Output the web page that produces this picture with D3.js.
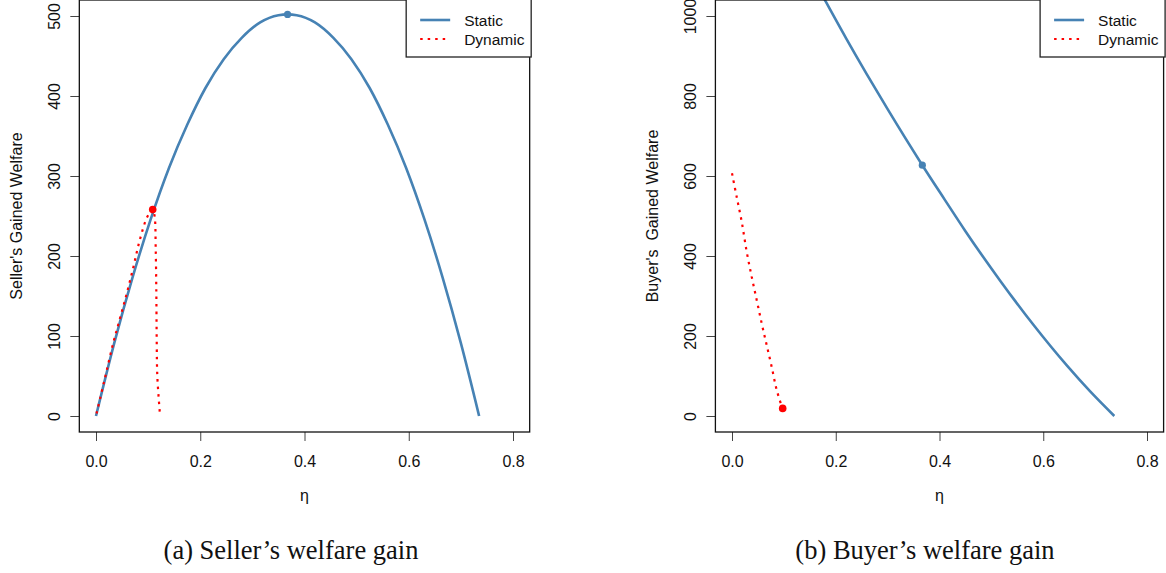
<!DOCTYPE html>
<html>
<head>
<meta charset="utf-8">
<script src="https://cdn.jsdelivr.net/npm/d3@7"></script>
<style>
  html, body { margin: 0; padding: 0; background: #fff; }
  svg { display: block; }
  text { font-family: "Liberation Sans", Arial, sans-serif; }
  text.caption { font-family: "Liberation Serif", "DejaVu Serif", serif; }
</style>
</head>
<body>
<svg id="chart" width="1166" height="573"></svg>
<script>
// ---------------- data ----------------
const xTicks = [0, 0.2, 0.4, 0.6, 0.8];
const sellerYTicks = [0, 100, 200, 300, 400, 500];
const buyerYTicks = [0, 200, 400, 600, 800, 1000];

// Panel (a): seller's gained welfare
const sellerStaticEta = [0, 0.035, 0.07, 0.105, 0.14, 0.175, 0.21, 0.245, 0.28, 0.315, 0.35, 0.3675, 0.385, 0.42, 0.455, 0.49, 0.525, 0.56, 0.595, 0.63, 0.665, 0.70, 0.735];
const sellerStaticVal = [0, 91, 173, 246, 310, 364, 410, 446, 473, 492, 501, 502, 501, 492, 473, 446, 410, 364, 310, 246, 173, 91, 0];
const sellerDynamicEta = [0.001, 0.017, 0.033, 0.046, 0.059, 0.072, 0.084, 0.0985, 0.1088, 0.1126, 0.1145, 0.1157, 0.1164, 0.1177, 0.1228];
const sellerDynamicVal = [3, 47, 91, 122, 153, 187, 220, 249, 258, 249, 211, 157, 99, 49, 1];
const sellerStaticOpt = [0.3675, 502];
const sellerDynamicOpt = [0.1088, 258];

// Panel (b): buyer's gained welfare
const buyerStaticEta = [0.12, 0.15, 0.179, 0.22, 0.26, 0.30, 0.3669, 0.41, 0.45, 0.5166, 0.581, 0.645, 0.69, 0.737];
const buyerStaticVal = [1183, 1109, 1040, 944, 854, 767, 627, 541, 462, 339, 228, 127, 62, 0];
const buyerDynamicEta = [0, 0.009, 0.0187, 0.0283, 0.038, 0.0476, 0.0572, 0.0669, 0.0765, 0.0862, 0.0977, 0.102, 0.099];
const buyerDynamicVal = [607, 548, 486, 411, 348, 290, 232, 177, 123, 65, 19, 9, 14];
const buyerStaticOpt = [0.3669, 627];
const buyerDynamicOpt = [0.0977, 19];

const legendLabels = ["Static", "Dynamic"];
const captions = ["(a) Seller\u2019s welfare gain", "(b) Buyer\u2019s welfare gain"];
const yLabels = ["Seller's Gained Welfare", "Buyer's  Gained Welfare"];
const xLabel = "\u03b7";

// ---------------- drawing ----------------
const svg = d3.select("#chart");
const BLUE = "#4682B4", RED = "#FF0000";

function zip(a, b) { return a.map((v, i) => [v, b[i]]); }

function panel(cfg) {
  const x = d3.scaleLinear().domain([0, 0.8]).range(cfg.xr);
  const y = d3.scaleLinear().domain([0, cfg.ymax]).range([416, 16]);
  const x0 = x(-0.032), x1 = x(0.832);
  const y0 = y(-cfg.ymax * 0.04), y1 = y(cfg.ymax * 1.04);
  const g = svg.append("g");

  const clipId = "clip" + cfg.id;
  svg.append("clipPath").attr("id", clipId)
    .append("rect").attr("x", x0).attr("y", y1).attr("width", x1 - x0).attr("height", y0 - y1);

  // axes
  const xa = g.append("g").attr("transform", `translate(0,${y0})`)
    .call(d3.axisBottom(x).tickValues(xTicks).tickSize(9).tickFormat(d3.format(".1f")));
  xa.select(".domain").remove();
  xa.selectAll("line").attr("stroke", "#444").attr("stroke-width", 1);
  xa.selectAll("text").attr("y", 35).attr("dy", 0)
    .attr("font-size", 16).attr("fill", "#111");

  const ya = g.append("g").attr("transform", `translate(${x0},0)`)
    .call(d3.axisLeft(y).tickValues(cfg.yTicks).tickSize(9).tickFormat(d3.format("d")));
  ya.select(".domain").remove();
  ya.selectAll("line").attr("stroke", "#444").attr("stroke-width", 1);
  ya.selectAll("text")
    .attr("transform", "rotate(-90)")
    .attr("x", 0).attr("y", -19).attr("dy", 0)
    .attr("text-anchor", "middle")
    .attr("font-size", 16).attr("fill", "#111");

  // axis titles
  g.append("text").attr("x", (x(0) + x(0.8)) / 2).attr("y", 501)
    .attr("text-anchor", "middle").attr("font-size", 16).attr("fill", "#111").text(xLabel);
  g.append("text")
    .attr("transform", `translate(${x0 - 57},${(y0 + y1) / 2}) rotate(-90)`)
    .attr("text-anchor", "middle").attr("font-size", 16).attr("fill", "#111")
    .style("white-space", "pre").text(cfg.ylab);

  // lines
  const plot = g.append("g").attr("clip-path", `url(#${clipId})`);
  plot.append("path").datum(zip(cfg.sEta, cfg.sVal))
    .attr("d", d3.line().x(d => x(d[0])).y(d => y(d[1])).curve(d3.curveMonotoneX))
    .attr("fill", "none").attr("stroke", BLUE).attr("stroke-width", 2.6);
  plot.append("path").datum(zip(cfg.dEta, cfg.dVal))
    .attr("d", d3.line().x(d => x(d[0])).y(d => y(d[1])).curve(d3.curveCatmullRom))
    .attr("fill", "none").attr("stroke", RED).attr("stroke-width", 2.2)
    .attr("stroke-dasharray", "2.5,5");
  plot.append("circle").attr("cx", x(cfg.sOpt[0])).attr("cy", y(cfg.sOpt[1])).attr("r", 3.6).attr("fill", BLUE);
  plot.append("circle").attr("cx", x(cfg.dOpt[0])).attr("cy", y(cfg.dOpt[1])).attr("r", 3.8).attr("fill", RED);

  // box
  g.append("rect").attr("x", x0).attr("y", y1).attr("width", x1 - x0).attr("height", y0 - y1)
    .attr("fill", "none").attr("stroke", "#111").attr("stroke-width", 1.3);

  // legend
  const lw = 125, lh = 57;
  const lg = g.append("g").attr("transform", `translate(${x1 + 1.5 - lw},0)`);
  lg.append("rect").attr("x", 0).attr("y", -2).attr("width", lw).attr("height", lh + 2)
    .attr("fill", "#fff").attr("stroke", "#222").attr("stroke-width", 1.3);
  const rows = [{ c: BLUE, dash: null, w: 2.6 }, { c: RED, dash: "2.5,5", w: 2.2 }];
  rows.forEach((r, i) => {
    const yy = 20 + i * 19;
    lg.append("line").attr("x1", 14).attr("x2", 44).attr("y1", yy).attr("y2", yy)
      .attr("stroke", r.c).attr("stroke-width", r.w).attr("stroke-dasharray", r.dash);
    lg.append("text").attr("x", 58).attr("y", yy + 5.5).attr("font-size", 15.5).attr("fill", "#111")
      .text(legendLabels[i]);
  });

  // caption
  svg.append("text").attr("class", "caption").attr("x", cfg.capX).attr("y", 559).attr("text-anchor", "middle")
    .attr("font-size", 26.5).attr("fill", "#111")
    .text(cfg.caption);
}

panel({ id: "a", xr: [96, 513], ymax: 500, yTicks: sellerYTicks, ylab: yLabels[0],
  sEta: sellerStaticEta, sVal: sellerStaticVal, dEta: sellerDynamicEta, dVal: sellerDynamicVal,
  sOpt: sellerStaticOpt, dOpt: sellerDynamicOpt, caption: captions[0], capX: 291 });
panel({ id: "b", xr: [732, 1147], ymax: 1000, yTicks: buyerYTicks, ylab: yLabels[1],
  sEta: buyerStaticEta, sVal: buyerStaticVal, dEta: buyerDynamicEta, dVal: buyerDynamicVal,
  sOpt: buyerStaticOpt, dOpt: buyerDynamicOpt, caption: captions[1], capX: 925 });
</script>
</body>
</html>
